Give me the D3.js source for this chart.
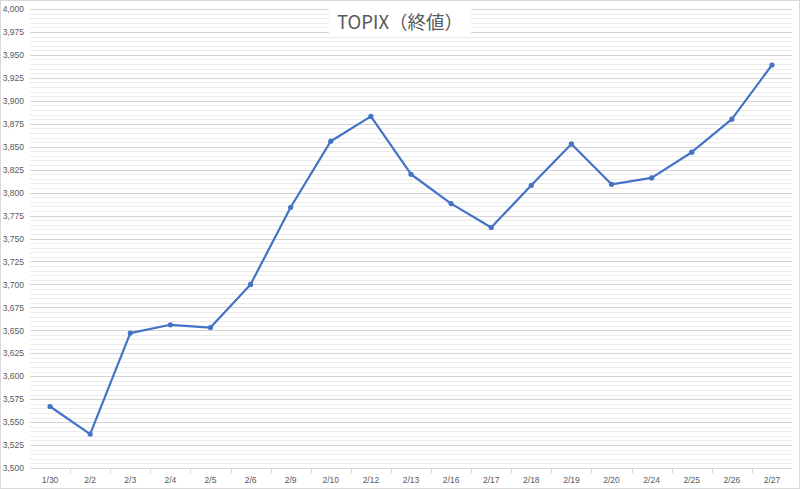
<!DOCTYPE html>
<html>
<head>
<meta charset="utf-8">
<style>
  body { margin: 0; background: #fff; }
  svg { display: block; font-family: "Open Sans", "Noto Sans", sans-serif; }
  .grid .minor { stroke: #ececec; stroke-width: 1; }
  .grid .major { stroke: #d4d4d4; stroke-width: 1; }
  .axis text { fill: #595959; font-size: 8.5px; }
  .axis path, .axis line { stroke: #d9d9d9; }
</style>
</head>
<body>
<svg width="800" height="489"></svg>
<script src="https://d3js.org/d3.v7.min.js"></script>
<script>
// TOPIX closing values
var dates = ['1/30','2/2','2/3','2/4','2/5','2/6','2/9','2/10','2/12','2/13',
             '2/16','2/17','2/18','2/19','2/20','2/24','2/25','2/26','2/27'];
var closes = [3567, 3537, 3647, 3656, 3653, 3700, 3784, 3856, 3883, 3820,
              3788, 3762, 3808, 3853, 3809, 3816, 3844, 3880, 3939];
var yTicks = d3.range(3500, 4001, 25);
var yMinor = d3.range(3500, 4001, 5);
var title = 'TOPIX（終値）';

var svg = d3.select('svg');
var plotLeft = 30, plotRight = 792, plotTop = 9, plotBottom = 468;

svg.append('rect')
  .attr('x', 0.5).attr('y', 0.5)
  .attr('width', 799).attr('height', 488)
  .attr('fill', '#fff').attr('stroke', '#d9d9d9');

var x = d3.scaleBand().domain(dates).range([plotLeft, plotRight]);
var y = d3.scaleLinear().domain([3500, 4000]).range([plotBottom, plotTop]);

function yPix(d) { return Math.round(y(d)) + 0.5; }

var grid = svg.append('g').attr('class', 'grid');
grid.selectAll('line.minor')
  .data(yMinor.filter(function(v) { return v % 25 != 0; }))
  .enter().append('line').attr('class', 'minor')
  .attr('x1', plotLeft).attr('x2', plotRight)
  .attr('y1', yPix).attr('y2', yPix);
grid.selectAll('line.major')
  .data(yTicks.slice(1))
  .enter().append('line').attr('class', 'major')
  .attr('x1', plotLeft).attr('x2', plotRight)
  .attr('y1', yPix).attr('y2', yPix);

// y axis labels
var yAxis = d3.axisLeft(y).tickValues(yTicks).tickSize(0).tickPadding(6)
  .tickFormat(d3.format(','));
svg.append('g').attr('class', 'axis')
  .attr('transform', 'translate(' + plotLeft + ',0)')
  .call(yAxis)
  .call(function(g) { g.select('.domain').remove(); });

// x axis with tick marks between categories
var xAxis = d3.axisBottom(x).tickSize(0).tickPadding(8);
var xg = svg.append('g').attr('class', 'axis')
  .attr('transform', 'translate(0,' + yPix(3500) + ')')
  .call(xAxis);
xg.select('.domain').attr('d', 'M' + plotLeft + ',0H' + plotRight);
xg.selectAll('line.sep')
  .data(dates.slice(1))
  .enter().append('line').attr('class', 'sep')
  .attr('x1', function(d) { return Math.round(x(d)) + 0.5; })
  .attr('x2', function(d) { return Math.round(x(d)) + 0.5; })
  .attr('y1', 0).attr('y2', 5);

// line
var line = d3.line()
  .x(function(d, i) { return x(dates[i]) + x.bandwidth() / 2; })
  .y(function(d) { return y(d); });

svg.append('path')
  .datum(closes)
  .attr('d', line)
  .attr('fill', 'none')
  .attr('stroke', '#4472C4')
  .attr('stroke-width', 2.2)
  .attr('stroke-linejoin', 'round');

svg.selectAll('circle.pt')
  .data(closes)
  .enter().append('circle').attr('class', 'pt')
  .attr('cx', function(d, i) { return x(dates[i]) + x.bandwidth() / 2; })
  .attr('cy', function(d) { return y(d); })
  .attr('r', 2.6)
  .attr('fill', '#4472C4');

// title with white box behind
svg.append('rect')
  .attr('x', 329).attr('y', 8).attr('width', 142).attr('height', 29)
  .attr('fill', '#fff');
svg.append('text')
  .attr('x', 400).attr('y', 29)
  .attr('text-anchor', 'middle')
  .attr('fill', '#595959')
  .style('font-family', '"Noto Sans CJK JP", sans-serif')
  .style('font-size', '18.5px')
  .text(title);
</script>
</body>
</html>
